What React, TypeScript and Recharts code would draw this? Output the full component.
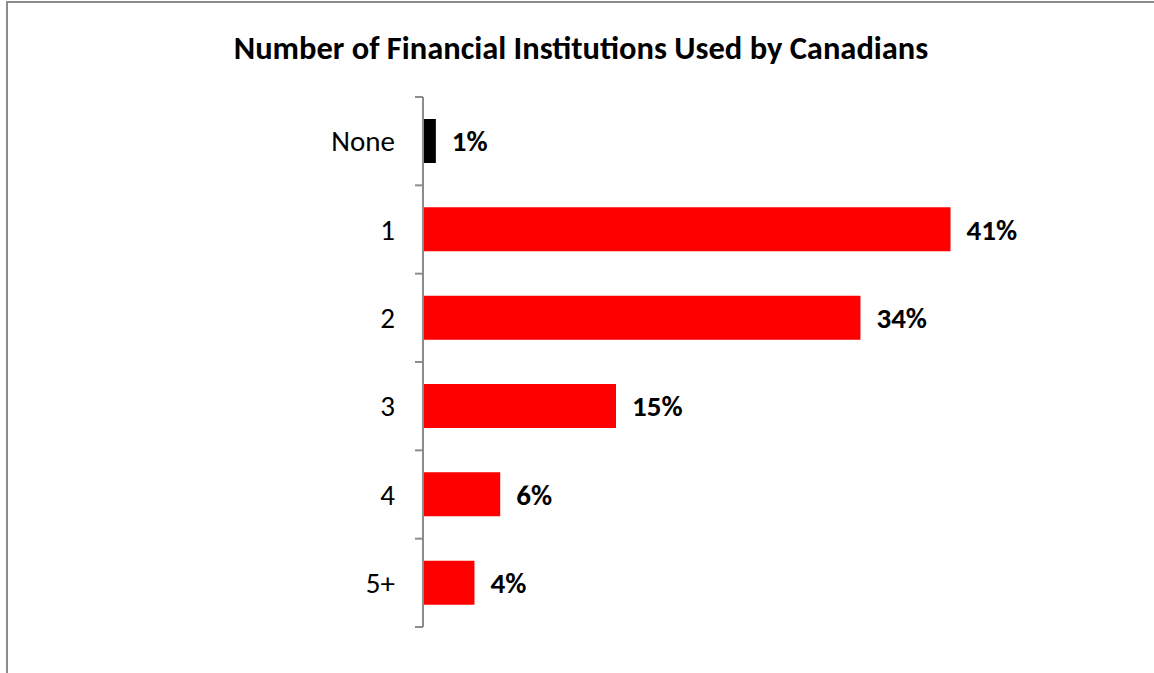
import React from 'react';
import { BarChart, Bar, XAxis, YAxis, Cell, LabelList } from 'recharts';

const categories = ['None', '1', '2', '3', '4', '5+'];
const shares = [1, 41, 34, 15, 6, 4];
const barColors = ['#000000', '#ff0000', '#ff0000', '#ff0000', '#ff0000', '#ff0000'];

const TITLE = 'Number of Financial Institutions Used by Canadians';
const FONT = 'Carlito, Calibri, Lato, sans-serif';

const CHART_W = 1146;
const CHART_H = 700;
const TICK_SIZE = 8;
const TICK_MARGIN = 20;
const AXIS_GRAY = '#8c8c8c';

const chartData = categories.map((name, i) => ({ name, value: shares[i], color: barColors[i] }));

// Excel-style category ticks: marks sit on the band boundaries, not the centres
const CategoryTick = (props: any) => {
  const { x, y, payload, index, visibleTicksCount } = props;
  const half = payload?.offset ?? 0;
  const axisX = x + TICK_MARGIN + TICK_SIZE;
  const isLast = index === visibleTicksCount - 1;
  return (
    <g>
      <line x1={axisX - TICK_SIZE} x2={axisX} y1={y - half} y2={y - half} stroke={AXIS_GRAY} strokeWidth={2} />
      {isLast && (
        <line x1={axisX - TICK_SIZE} x2={axisX} y1={y + half} y2={y + half} stroke={AXIS_GRAY} strokeWidth={2} />
      )}
      <text x={x} y={y} textAnchor="end" dominantBaseline="central" fontSize={29} fill="#000" fontFamily={FONT}>
        {payload.value}
      </text>
    </g>
  );
};

const App: React.FC = () => {
  return (
    <div
      style={{
        position: 'absolute',
        left: 6,
        top: 1,
        width: CHART_W,
        height: CHART_H,
        border: `2px solid ${AXIS_GRAY}`,
        background: '#fff',
      }}
    >
      <div
        style={{
          position: 'absolute',
          top: 25,
          left: 0,
          width: '100%',
          textAlign: 'center',
          fontFamily: FONT,
          fontWeight: 'bold',
          fontSize: 32.5,
          color: '#000',
        }}
      >
        {TITLE}
      </div>
      <BarChart
        width={CHART_W}
        height={CHART_H}
        data={chartData}
        layout="vertical"
        margin={{ top: 94, right: 152, bottom: 75, left: 0 }}
      >
        <XAxis type="number" dataKey="value" domain={[0, 45]} tick={false} axisLine={false} tickLine={false} height={1} />
        <YAxis
          type="category"
          dataKey="name"
          width={415}
          tickLine={false}
          tickSize={TICK_SIZE}
          tickMargin={TICK_MARGIN}
          axisLine={{ stroke: AXIS_GRAY, strokeWidth: 2 }}
          tick={<CategoryTick />}
          interval={0}
        />
        <Bar dataKey="value" isAnimationActive={false} fill="#ff0000" barSize={44}>
          {chartData.map((d, i) => (
            <Cell key={`cell-${i}`} fill={d.color} />
          ))}
          <LabelList
            dataKey="value"
            position="right"
            offset={16}
            formatter={(v: any) => `${v}%`}
            style={{ fontFamily: FONT, fontWeight: 'bold', fontSize: 29, fill: '#000' }}
          />
        </Bar>
      </BarChart>
    </div>
  );
};

export default App;
